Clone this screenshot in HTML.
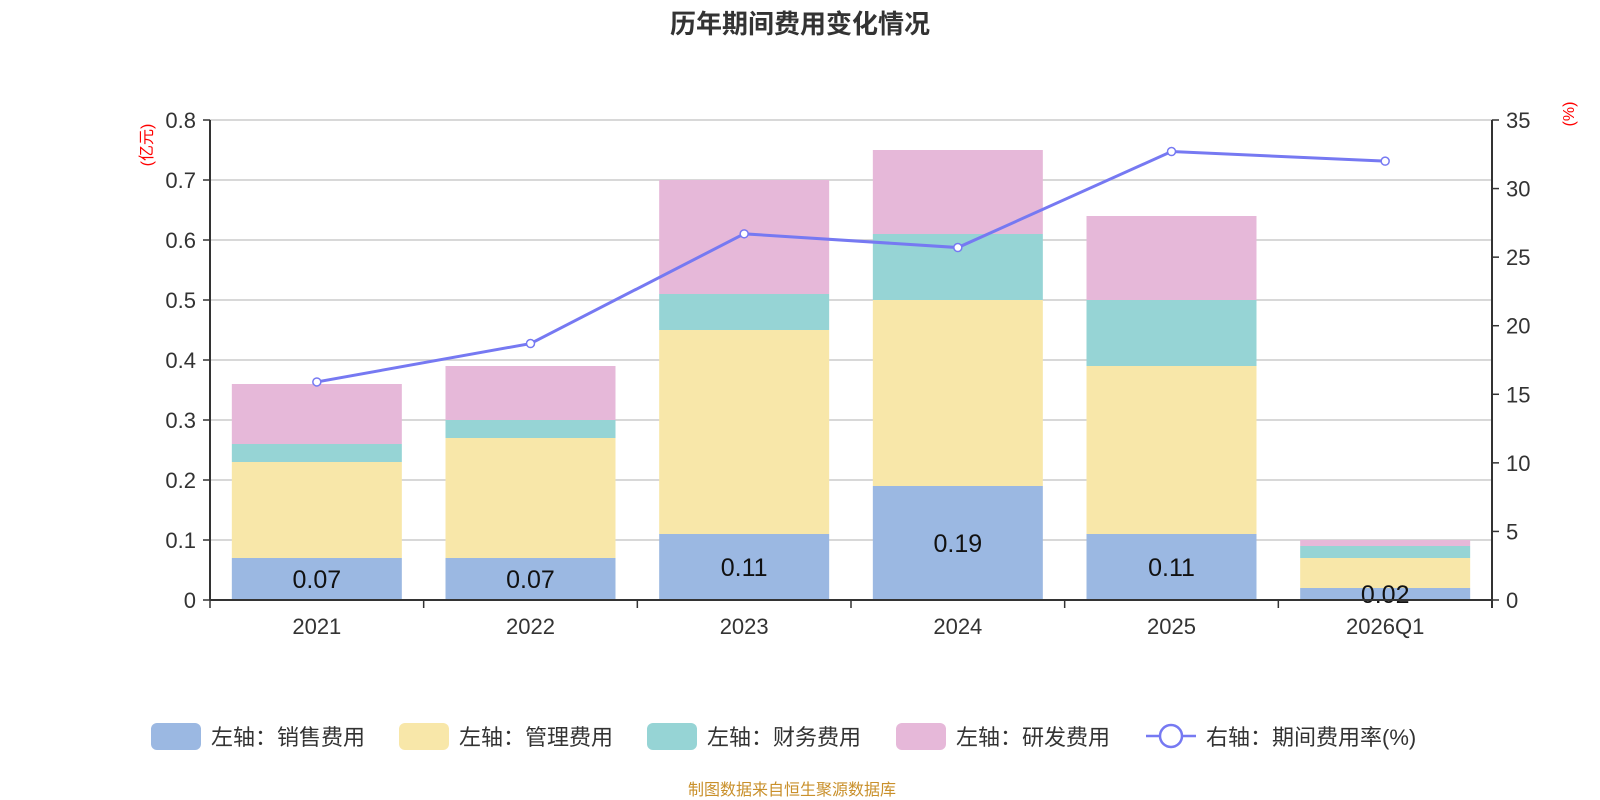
<!DOCTYPE html>
<html><head><meta charset="utf-8"><style>
body{margin:0;background:#fff;}
svg{display:block;font-family:"Liberation Sans","Noto Sans CJK SC",sans-serif;}
</style></head><body>
<svg id="c" width="1600" height="800">
<text x="800" y="33" text-anchor="middle" font-size="26" font-weight="bold" fill="#333">历年期间费用变化情况</text>
<g id="g"></g>
<text x="792" y="795" text-anchor="middle" font-size="16" fill="#c9902b">制图数据来自恒生聚源数据库</text>
</svg>
<script>
const categories=["2021","2022","2023","2024","2025","2026Q1"];
const sales=[0.07,0.07,0.11,0.19,0.11,0.02];
const mgmt=[0.16,0.20,0.34,0.31,0.28,0.05];
const fin=[0.03,0.03,0.06,0.11,0.11,0.02];
const rnd=[0.10,0.09,0.19,0.14,0.14,0.01];
const rate=[15.9,18.7,26.7,25.7,32.7,32.0];
const leftTicks=[0,0.1,0.2,0.3,0.4,0.5,0.6,0.7,0.8];
const rightTicks=[0,5,10,15,20,25,30,35];
const NS="http://www.w3.org/2000/svg";
const g=document.getElementById('g');
const L=210,R=1492,B=600,T=120;
const yL=v=>B-(v/0.8)*(B-T);
const yR=v=>B-(v/35)*(B-T);
const bw=(R-L)/categories.length;
const xc=i=>L+bw*(i+0.5);
function el(t,a,txt){const e=document.createElementNS(NS,t);for(const k in a)e.setAttribute(k,a[k]);if(txt!==undefined)e.textContent=txt;g.appendChild(e);return e;}
leftTicks.forEach(v=>{
 if(v>0){const l=el('line',{x1:L,x2:R,y1:yL(v),y2:yL(v),stroke:'#ccc','stroke-width':1.5});
 
 }
 el('line',{x1:L-7,x2:L,y1:yL(v),y2:yL(v),stroke:'#333','stroke-width':1.5});
 const t=el('text',{x:L-14,y:yL(v)+8,'text-anchor':'end','font-size':22,fill:'#333'},String(v));
 
 
});
rightTicks.forEach(v=>{
 el('line',{x1:R,x2:R+7,y1:yR(v),y2:yR(v),stroke:'#333','stroke-width':1.5});
 const t=el('text',{x:R+14,y:yR(v)+8,'font-size':22,fill:'#333'},String(v));
 
 
});
const series=[[sales,'#9bb8e2','sales'],[mgmt,'#f8e7a9','mgmt'],[fin,'#96d4d5','fin'],[rnd,'#e6b8d9','rnd']];
const bwid=170;
categories.forEach((c,i)=>{
 let acc=0;
 series.forEach(([arr,col,n])=>{
  const y1=yL(acc+arr[i]),y0=yL(acc);
  const r=el('rect',{x:xc(i)-bwid/2,y:y1,width:bwid,height:y0-y1,fill:col});
  
  
  acc+=arr[i];
 });
 const t=el('text',{x:xc(i),y:(yL(0)+yL(sales[i]))/2+9,'text-anchor':'middle','font-size':25,fill:'#111'},sales[i].toFixed(2));
 
 
 const xl=el('text',{x:xc(i),y:B+34,'text-anchor':'middle','font-size':22,fill:'#333'},c);
 
 
});
for(let i=0;i<=categories.length;i++){el('line',{x1:L+bw*i,x2:L+bw*i,y1:B,y2:B+8,stroke:'#333','stroke-width':1.5});}
el('line',{x1:L,x2:R,y1:B,y2:B,stroke:'#333','stroke-width':2});
el('line',{x1:L,x2:L,y1:T,y2:B,stroke:'#333','stroke-width':2});
el('line',{x1:R,x2:R,y1:T,y2:B+8,stroke:'#333','stroke-width':2});
const ln=el('polyline',{points:rate.map((v,i)=>xc(i)+','+yR(v)).join(' '),fill:'none',stroke:'#7679f2','stroke-width':3});


rate.forEach((v,i)=>{const p=el('circle',{cx:xc(i),cy:yR(v),r:4,fill:'#fff',stroke:'#7679f2','stroke-width':1.5});
 
 });
const ya=el('text',{transform:`translate(${L-58},${T+25}) rotate(-90)`,'text-anchor':'middle','font-size':16,fill:'#f00'},'(亿元)');


const yb=el('text',{transform:`translate(${R+82},${T-6}) rotate(-90)`,'text-anchor':'middle','font-size':16,fill:'#f00'},'(%)');


const leg=[['左轴：销售费用','#9bb8e2',151],['左轴：管理费用','#f8e7a9',399],['左轴：财务费用','#96d4d5',647],['左轴：研发费用','#e6b8d9',896]];
leg.forEach(([t,c,x])=>{
 const r=el('rect',{x:x,y:723,width:50,height:27,rx:6,fill:c});
 
 
 const tx=el('text',{x:x+60,y:745,'font-size':22,fill:'#333'},t);
 
 
});
el('line',{x1:1146,x2:1196,y1:736,y2:736,stroke:'#7679f2','stroke-width':2.5});
const lc=el('circle',{cx:1171,cy:736,r:11,fill:'#fff',stroke:'#7679f2','stroke-width':2.5});


const lt=el('text',{x:1206,y:745,'font-size':22,fill:'#333'},'右轴：期间费用率(%)');


</script>
</body></html>
